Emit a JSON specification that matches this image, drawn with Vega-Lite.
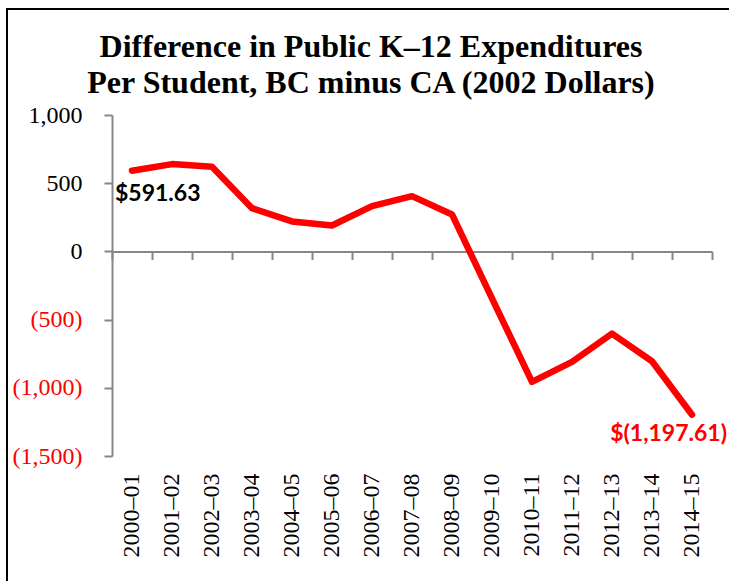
{
  "$schema": "https://vega.github.io/schema/vega-lite/v6.json",
  "autosize": {"type": "none"},
  "padding": {"left": 7, "top": 9, "right": 0, "bottom": 0},
  "width": 760,
  "height": 600,
  "background": "white",
  "config": {
    "view": {"stroke": "black", "strokeWidth": 2},
    "font": "Liberation Serif"
  },
  "title": {
    "text": ["Difference in Public K\u201312 Expenditures", "Per Student, BC minus CA (2002 Dollars)"],
    "font": "Liberation Serif",
    "fontSize": 32,
    "fontWeight": "bold",
    "color": "black",
    "anchor": "middle",
    "frame": "group",
    "baseline": "alphabetic",
    "lineHeight": 36,
    "offset": -116,
    "dx": -16
  },
  "data": {
    "values": [
      {"period": "2000\u201301", "value": 591.63},
      {"period": "2001\u201302", "value": 640},
      {"period": "2002\u201303", "value": 620},
      {"period": "2003\u201304", "value": 317},
      {"period": "2004\u201305", "value": 220},
      {"period": "2005\u201306", "value": 190},
      {"period": "2006\u201307", "value": 332},
      {"period": "2007\u201308", "value": 405},
      {"period": "2008\u201309", "value": 271},
      {"period": "2009\u201310", "value": -345},
      {"period": "2010\u201311", "value": -957},
      {"period": "2011\u201312", "value": -810},
      {"period": "2012\u201313", "value": -603},
      {"period": "2013\u201314", "value": -805},
      {"period": "2014\u201315", "value": -1197.61}
    ]
  },
  "resolve": {"axis": {"x": "independent", "y": "independent"}},
  "layer": [
    {
      "mark": {"type": "line", "color": "#FF0000", "strokeWidth": 6.5, "strokeCap": "round", "strokeJoin": "round"},
      "encoding": {
        "x": {
          "field": "period", "type": "ordinal", "sort": null, "bandPosition": 0.5,
          "scale": {"type": "band", "range": [105, 705], "paddingInner": 0, "paddingOuter": 0},
          "axis": {
            "orient": "bottom", "offset": -357.6, "title": null, "labels": false,
            "domainColor": "#878787", "domainWidth": 2, "tickColor": "#878787", "tickWidth": 2,
            "tickSize": 8, "tickBand": "extent", "grid": false
          }
        },
        "y": {
          "field": "value", "type": "quantitative",
          "scale": {"domain": [-1500, 1000], "range": [447, 106], "nice": false, "zero": false},
          "axis": {
            "orient": "left", "offset": -105, "title": null, "values": [-1500, -1000, -500, 0, 500, 1000],
            "grid": false, "domainColor": "#878787", "domainWidth": 2, "tickColor": "#878787", "tickWidth": 2,
            "tickSize": 8, "labelPadding": 22, "labelFont": "Liberation Serif", "labelFontSize": 24,
            "labelExpr": "datum.value < 0 ? '(' + format(-datum.value, ',') + ')' : format(datum.value, ',')",
            "labelColor": {"condition": {"test": "datum.value < 0", "value": "#FF0000"}, "value": "black"}
          }
        }
      }
    },
    {
      "transform": [{"filter": "datum.period == '2000\u201301'"}],
      "mark": {"type": "text", "font": "Lato", "fontWeight": "bold", "fontSize": 23, "color": "black", "align": "left", "baseline": "middle", "dx": -17, "dy": 23},
      "encoding": {
        "x": {
          "field": "period", "type": "ordinal", "sort": null, "bandPosition": 0.5,
          "axis": {
            "orient": "bottom", "offset": -153, "title": null, "domain": false, "ticks": false,
            "labelAngle": -90, "labelPadding": 17, "labelFont": "Liberation Serif", "labelFontSize": 24,
            "labelColor": "black", "grid": false
          }
        },
        "y": {"field": "value", "type": "quantitative", "axis": null},
        "text": {"value": "$591.63"}
      }
    },
    {
      "transform": [{"filter": "datum.period == '2014\u201315'"}],
      "mark": {"type": "text", "font": "Lato", "fontWeight": "bold", "fontSize": 23, "color": "#FF0000", "align": "right", "baseline": "middle", "dx": 35, "dy": 19},
      "encoding": {
        "x": {"field": "period", "type": "ordinal", "sort": null, "bandPosition": 0.5, "axis": null},
        "y": {"field": "value", "type": "quantitative", "axis": null},
        "text": {"value": "$(1,197.61)"}
      }
    }
  ]
}
